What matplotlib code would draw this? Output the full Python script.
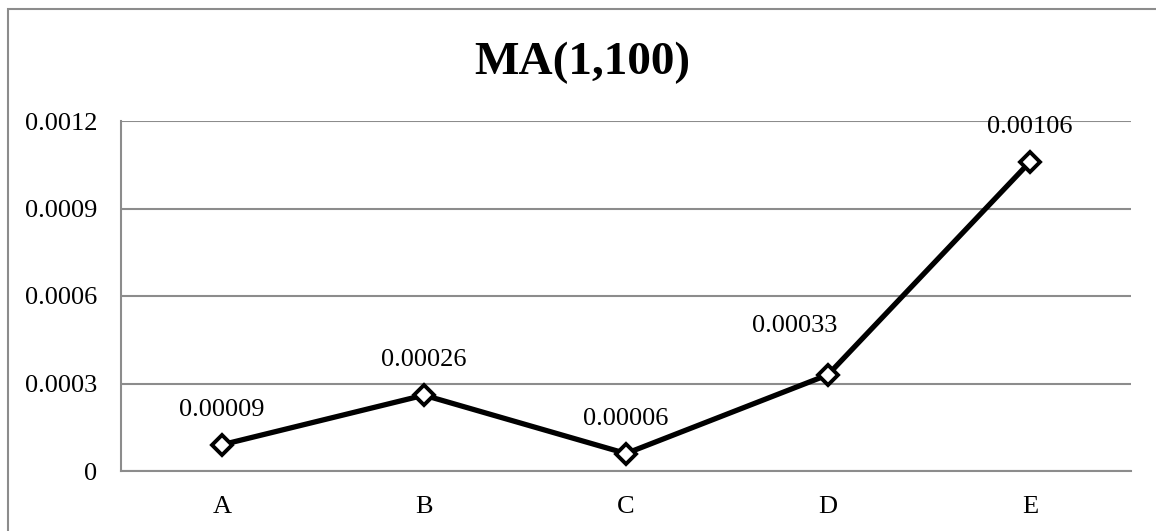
import matplotlib
matplotlib.use("Agg")
import matplotlib.pyplot as plt
from matplotlib.patches import Rectangle

categories = ["A", "B", "C", "D", "E"]
values = [0.00009, 0.00026, 0.00006, 0.00033, 0.00106]
labels = ["0.00009", "0.00026", "0.00006", "0.00033", "0.00106"]
yticks = [0, 0.0003, 0.0006, 0.0009, 0.0012]
ytick_labels = ["0", "0.0003", "0.0006", "0.0009", "0.0012"]
title = "MA(1,100)"

plt.rcParams['font.family'] = ['Liberation Serif', 'DejaVu Serif']

W, H = 1156, 531
fig = plt.figure(figsize=(W / 100, H / 100), dpi=100)
ax = fig.add_axes([121 / W, 1 - 471 / H, (1131 - 121) / W, (471 - 121) / H])

grid_c = '#8c8c8c'
x = list(range(len(categories)))
ax.plot(x, values, color='black', lw=3.8, marker='D', markersize=10,
        markerfacecolor='white', markeredgecolor='black', markeredgewidth=2.8,
        zorder=3, solid_joinstyle='miter')
offsets = [(0, 25), (0, 25), (0, 25), (-24, 35), (0, 25)]
for xi, v, lab, off in zip(x, values, labels, offsets):
    ax.annotate(lab, (xi, v), xytext=off, textcoords='offset points',
                ha='center', va='center', fontsize=19)

ax.set_xlim(-0.5, len(categories) - 0.5)
ax.set_ylim(0, 0.0012)
ax.set_xticks(x)
ax.set_xticklabels(categories, fontsize=19)
ax.set_yticks(yticks)
ax.set_yticklabels(ytick_labels, fontsize=19)
ax.tick_params(axis='both', length=0)
ax.tick_params(axis='y', pad=17)
ax.tick_params(axis='x', pad=18)
ax.grid(axis='y', color=grid_c, lw=1.5)
ax.set_axisbelow(True)
for s in ['top', 'right']:
    ax.spines[s].set_visible(False)
for s in ['left', 'bottom']:
    ax.spines[s].set_color(grid_c)
    ax.spines[s].set_linewidth(1.5)

fig.text(582 / W, 1 - 74 / H, title, ha='center', va='baseline',
         fontsize=34, fontweight='bold')

fig.patches.append(Rectangle((8 / W, -0.1), 1.2, 1 - 9 / H + 0.1,
                             transform=fig.transFigure, fill=False,
                             edgecolor=grid_c, lw=1.5))

fig.savefig("out.png", dpi=100)
